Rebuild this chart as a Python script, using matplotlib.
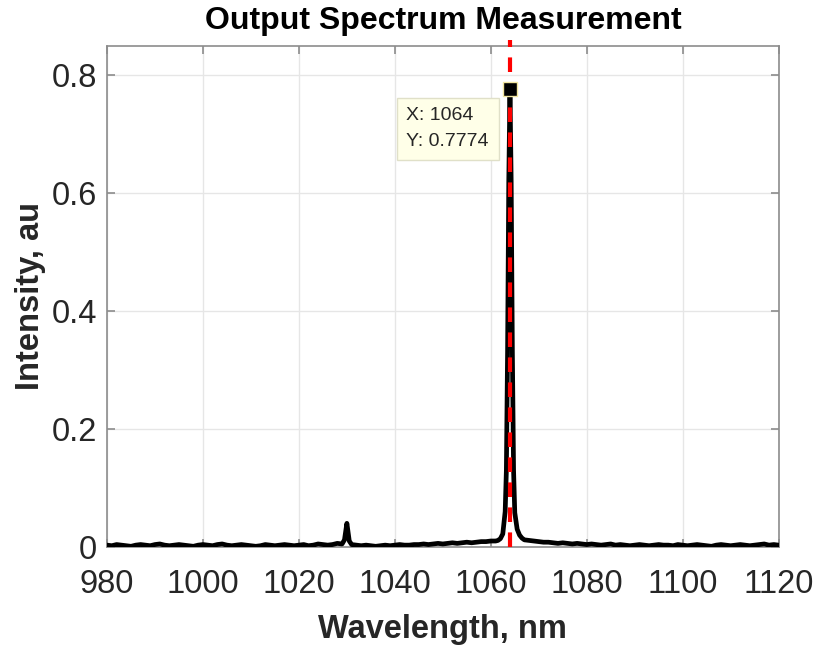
"""Output spectrum plot (MATLAB-style data tip)."""
import matplotlib
matplotlib.use("Agg")
import matplotlib.pyplot as plt
import numpy as np

plt.rcParams["font.family"] = ["Liberation Sans", "DejaVu Sans"]

# ---- data -------------------------------------------------------------
# baseline 980..1029 nm (1 nm step)
wl_a = np.arange(980, 1030, 1.0)
int_a = [0.003, 0.002, 0.004, 0.003, 0.002, 0.001, 0.003, 0.004, 0.003, 0.002,
         0.004, 0.005, 0.003, 0.002, 0.003, 0.004, 0.003, 0.002, 0.001, 0.003,
         0.004, 0.003, 0.002, 0.004, 0.005, 0.003, 0.002, 0.003, 0.004, 0.003,
         0.002, 0.001, 0.002, 0.004, 0.003, 0.002, 0.003, 0.004, 0.003, 0.002,
         0.003, 0.004, 0.002, 0.003, 0.005, 0.004, 0.003, 0.004, 0.006, 0.005]
# small spike near 1030 nm
wl_spike = [1029.5, 1030.0, 1030.5]
int_spike = [0.012, 0.040, 0.010]
# baseline 1031..1061 nm
wl_b = np.arange(1031, 1062, 1.0)
int_b = [0.004, 0.003, 0.002, 0.003, 0.002, 0.001, 0.002, 0.003, 0.002, 0.003,
         0.004, 0.003, 0.003, 0.004, 0.004, 0.005, 0.004, 0.005, 0.006, 0.005,
         0.006, 0.007, 0.006, 0.007, 0.008, 0.007, 0.008, 0.009, 0.009, 0.010,
         0.010]
# main laser line
wl_peak = [1061.5, 1062.0, 1062.5, 1063.0, 1063.25, 1063.5, 1063.75, 1064.0,
           1064.25, 1064.5, 1064.75, 1065.0, 1065.5, 1066.0, 1066.5, 1067.0]
int_peak = [0.011, 0.014, 0.022, 0.060, 0.13, 0.33, 0.62, 0.7774,
            0.62, 0.33, 0.13, 0.058, 0.030, 0.020, 0.015, 0.012]
# baseline 1068..1120 nm
wl_c = np.arange(1068, 1121, 1.0)
int_c = [0.011, 0.010, 0.009, 0.008, 0.008, 0.007, 0.006, 0.007, 0.006, 0.005,
         0.006, 0.005, 0.004, 0.005, 0.004, 0.003, 0.004, 0.005, 0.003, 0.004,
         0.003, 0.002, 0.003, 0.004, 0.003, 0.002, 0.003, 0.004, 0.003, 0.003,
         0.002, 0.004, 0.003, 0.002, 0.003, 0.004, 0.003, 0.002, 0.001, 0.003,
         0.004, 0.003, 0.002, 0.003, 0.004, 0.003, 0.002, 0.003, 0.004, 0.005,
         0.003, 0.004, 0.003]

peak_wl = 1064
peak_val = 0.7774

wavelength = np.concatenate([wl_a, wl_spike, wl_b, wl_peak, wl_c])
intensity = np.concatenate([int_a, int_spike, int_b, int_peak, int_c])

# ---- plot -------------------------------------------------------------
fig = plt.figure(figsize=(8.17, 6.48), dpi=100)
ax = fig.add_axes([0.131, 0.156, 0.822, 0.773])

ax.plot(wavelength, intensity, color="black", linewidth=3.4, zorder=3)
ax.plot([peak_wl, peak_wl], [0, 0.86], color="#FF0000", linewidth=3,
        linestyle=(0, (3.5, 2.5)), zorder=4, clip_on=False)

# data tip
ax.plot(peak_wl, peak_val, marker="s", markersize=10, color="black",
        markeredgecolor="#F2E6A0", markeredgewidth=1, zorder=5)
ax.text(1042.4, 0.746, f"X: {peak_wl}\nY: {peak_val}", fontsize=14,
        color="#262626", va="top", ha="left", linespacing=1.7, zorder=6,
        bbox=dict(boxstyle="square,pad=0.5", facecolor="#FFFFE8",
                  edgecolor="#E0E0C8", linewidth=1))

ax.set_xlim(980, 1120)
ax.set_ylim(0, 0.85)
ax.set_xticks(np.arange(980, 1121, 20))
ax.set_yticks([0, 0.2, 0.4, 0.6, 0.8])
ax.set_yticklabels(["0", "0.2", "0.4", "0.6", "0.8"])

ax.grid(True, color="#E6E6E6", linewidth=1)
ax.set_axisbelow(True)
for s in ax.spines.values():
    s.set_color("#8C8C8C")
    s.set_linewidth(1.2)
ax.tick_params(direction="in", length=6, width=1.2, color="#8C8C8C",
               top=True, right=True, labelsize=23.5, labelcolor="#262626")
ax.tick_params(axis="x", pad=16)
ax.tick_params(axis="y", pad=7)

ax.set_title("Output Spectrum Measurement", fontsize=23, fontweight="bold",
             pad=12)
ax.set_xlabel("Wavelength, nm", fontsize=23.5, fontweight="bold",
              color="#262626", labelpad=10)
ax.set_ylabel("Intensity, au", fontsize=23.5, fontweight="bold",
              color="#262626", labelpad=4)

fig.savefig("out.png", dpi=100)
